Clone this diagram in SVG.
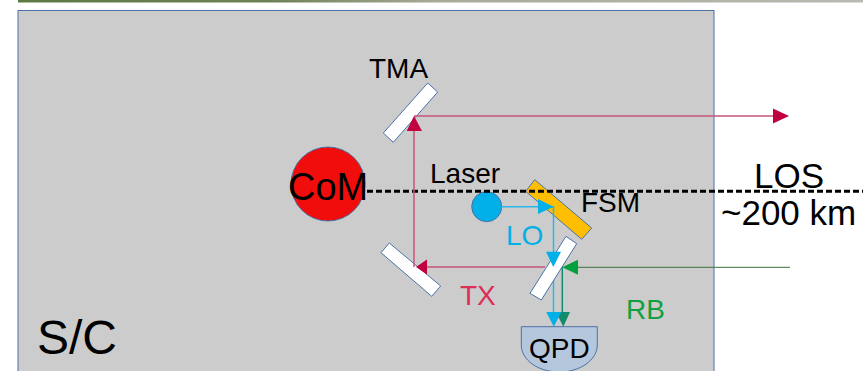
<svg xmlns="http://www.w3.org/2000/svg" width="863" height="371" viewBox="0 0 863 371">
<style>
text{font-family:"Liberation Sans",Arial,sans-serif;fill:#000}
.m{fill:#fff;stroke:#4a72a8;stroke-width:1}
.s{font-size:28px}
.b{font-size:35px}
.l{fill:none}
</style>
<defs>
<linearGradient id="strip" x1="0" x2="1" y1="0" y2="0">
<stop offset="0" stop-color="#5d7a45"/><stop offset="0.3" stop-color="#6f8257"/><stop offset="0.5" stop-color="#a9aa98"/><stop offset="1" stop-color="#b9b9b2"/>
</linearGradient>
</defs>
<rect width="863" height="371" fill="#fff"/>
<rect x="18" y="0" width="845" height="2.5" fill="url(#strip)"/>
<g id="sc">
<rect x="18" y="10.500" width="696" height="365" fill="#ccc" stroke="#4a72a8" stroke-width="1"/>
<text x="37" y="354" font-size="48">S/C</text>
</g>
<g id="com">
<circle cx="328" cy="184" r="37" fill="#f10d0c" stroke="#4a72a8"/>
<text x="288" y="200" font-size="38">CoM</text>
</g>
<g id="tma">
<polygon class="m" points="427.700,83 437.700,92 393.300,142.300 383.300,133"/>
<text class="s" x="369" y="78">TMA</text>
</g>
<g id="mirror">
<polygon class="m" points="389.300,243 440.700,286 431.700,296.300 381,252.700"/>
</g>
<g id="fsm">
<polygon points="534.700,179.700 591.700,228 581.700,239.300 525.700,191.300" fill="#ffbf00" stroke="#4a72a8"/>
<text class="s" x="581" y="212">FSM</text>
</g>
<g id="laser">
<circle cx="486.700" cy="206.700" r="15" fill="#00b0e6" stroke="#4a72a8"/>
<text class="s" x="430" y="183">Laser</text>
</g>
<g id="qpd">
<path d="M521.300 326.700H597.300V345C597.300 360 580 372 559.300 372C538 372 521.300 360 521.300 345Z" fill="#b4c7dc" stroke="#4a72a8"/>
<text class="s" x="529" y="358">QPD</text>
</g>
<g id="connectors">
<path class="l" d="M367 191.300H863" stroke="#000" stroke-width="3" stroke-dasharray="6 3"/>
<path class="l" d="M545 267H426M414 267V131M414 116H773" stroke="#c8547c" stroke-width="1.500"/>
<polygon points="416,267 427,259.500 427,274.500" fill="#c00040"/>
<polygon points="414,116 406.700,131 422,131" fill="#c00040"/>
<polygon points="789,116 773,108.500 773,123.500" fill="#c00040"/>
<path class="l" d="M501 206.700H553.500V312" stroke="#29b6e8" stroke-width="1.500"/>
<polygon points="553.500,206.700 538,199 538,214" fill="#00b0e6"/>
</g>
<g id="splitter">
<polygon class="m" points="566,236.300 576.700,243.700 541.300,300 530,293.300"/>
</g>
<g id="connectors-front">
<polygon points="553.300,267 546,251.700 561,251.700" fill="#00b0e6"/>
<path class="l" d="M790 267.300H578" stroke="#3f7040" stroke-width="1"/>
<polygon points="562.300,267.300 578,259.800 578,274.800" fill="#00a03c"/>
<path class="l" d="M562.300 267.300V312" stroke="#138a6c" stroke-width="1.500"/>
<polygon points="563.300,326.700 556,312 570,312" fill="#138a6c"/>
<polygon points="553.800,326.700 546.300,312 561.300,312" fill="#00b0e6"/>
</g>
<g id="labels">
<text class="s" x="506" y="245" style="fill:#00b0e6">LO</text>
<text class="s" x="460" y="305" style="fill:#dc2e56">TX</text>
<text class="s" x="626" y="319" style="fill:#10a040">RB</text>
<text class="b" x="754" y="188">LOS</text>
<text class="b" x="721" y="225">~200 km</text>
</g>
</svg>
